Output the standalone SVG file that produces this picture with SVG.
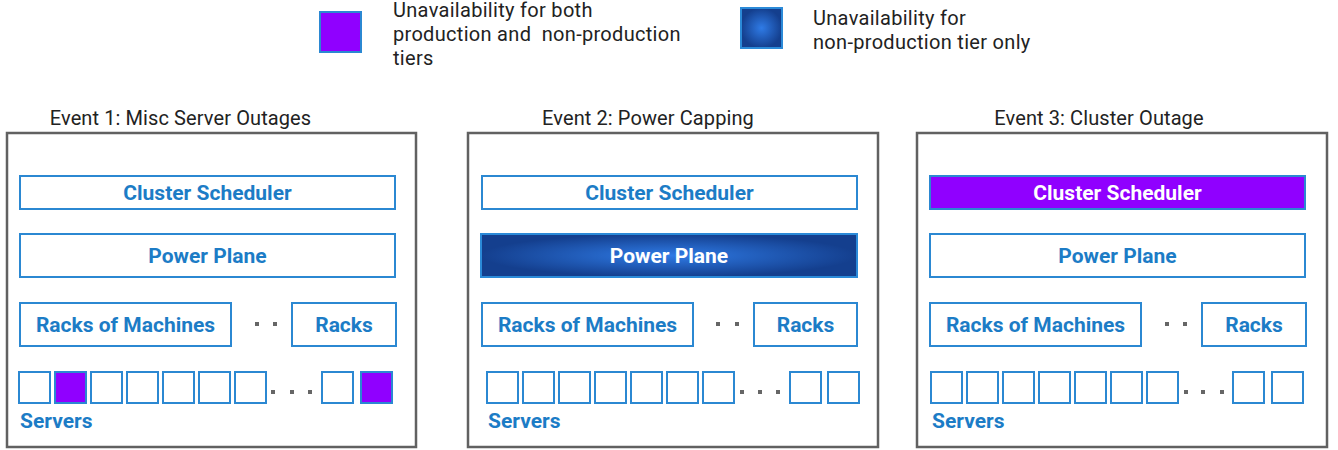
<svg xmlns="http://www.w3.org/2000/svg" width="1338" height="450" viewBox="0 0 1338 450">
<style>
.panel{fill:#fff;stroke:#616161;stroke-width:2.5}
.box{fill:#fff;stroke:#2b88d2;stroke-width:2}
.srv{fill:#fff;stroke:#2b88d2;stroke-width:2}
.bad{fill:#9000ff;stroke:#2b88d2;stroke-width:2}
.np{fill:url(#blueGrad);stroke:#2b8ad8;stroke-width:2}
.lbl{font-family:Roboto,"Liberation Sans",sans-serif;font-weight:700;font-size:21px;fill:#1c7cc6;text-anchor:middle}
.lblw{font-family:Roboto,"Liberation Sans",sans-serif;font-weight:700;font-size:21px;fill:#fff;text-anchor:middle}
.srvlbl{font-family:Roboto,"Liberation Sans",sans-serif;font-weight:700;font-size:21px;fill:#1c7cc6}
.title{font-family:Roboto,"Liberation Sans",sans-serif;font-size:20px;letter-spacing:0.1px;fill:#222;text-anchor:middle}
.leg{font-family:Roboto,"Liberation Sans",sans-serif;font-size:20px;letter-spacing:0.3px;fill:#222}
.dot{fill:#666}
</style>
<defs>
<radialGradient id="blueGrad" cx="0.5" cy="0.5" r="0.5">
<stop offset="0" stop-color="#2f7be6"/>
<stop offset="1" stop-color="#143f8e"/>
</radialGradient>
</defs>

<g id="legend">
<rect x="320" y="12" width="41" height="40" class="bad"/>
<text class="leg" x="393" y="17">Unavailability for both</text>
<text class="leg" x="393" y="41" xml:space="preserve">production and  non-production</text>
<text class="leg" x="393" y="65">tiers</text>
<rect x="741" y="8" width="41" height="40" class="np"/>
<text class="leg" x="813" y="25">Unavailability for</text>
<text class="leg" x="813" y="49">non-production tier only</text>
</g>

<g id="event1">
<text class="title" x="180.5" y="125">Event 1: Misc Server Outages</text>
<rect x="7" y="133" width="409" height="314" class="panel"/>
<g id="e1-scheduler"><rect x="20" y="176" width="375" height="33" class="box"/><text class="lbl" x="207.5" y="200">Cluster Scheduler</text></g>
<g id="e1-power"><rect x="20" y="234" width="375" height="43" class="box"/><text class="lbl" x="207.5" y="263">Power Plane</text></g>
<g id="e1-racks1"><rect x="20" y="303" width="211" height="43" class="box"/><text class="lbl" x="125.5" y="332">Racks of Machines</text></g>
<g id="e1-racks2"><rect x="292" y="303" width="104" height="43" class="box"/><text class="lbl" x="344" y="332">Racks</text></g>
<rect class="dot" x="255" y="322" width="4" height="4"/><rect class="dot" x="273" y="322" width="4" height="4"/>
<g id="e1-servers">
<rect class="srv" x="19" y="372" width="31" height="31"/>
<rect class="bad" x="55" y="372" width="31" height="31"/>
<rect class="srv" x="91" y="372" width="31" height="31"/>
<rect class="srv" x="127" y="372" width="31" height="31"/>
<rect class="srv" x="163" y="372" width="31" height="31"/>
<rect class="srv" x="199" y="372" width="31" height="31"/>
<rect class="srv" x="235" y="372" width="31" height="31"/>
<rect class="dot" x="271" y="390" width="4" height="4"/><rect class="dot" x="290" y="390" width="4" height="4"/><rect class="dot" x="308" y="390" width="4" height="4"/>
<rect class="srv" x="322" y="372" width="31" height="31"/>
<rect class="bad" x="361" y="372" width="31" height="31"/>
<text class="srvlbl" x="20" y="428">Servers</text>
</g>
</g>

<g id="event2">
<text class="title" x="648" y="125">Event 2: Power Capping</text>
<rect x="468" y="133" width="410" height="314" class="panel"/>
<g id="e2-scheduler"><rect x="482" y="176" width="375" height="33" class="box"/><text class="lbl" x="669.5" y="200">Cluster Scheduler</text></g>
<g id="e2-power"><rect x="481" y="234" width="376" height="43" class="np"/><text class="lblw" x="669" y="263">Power Plane</text></g>
<g id="e2-racks1"><rect x="482" y="303" width="211" height="43" class="box"/><text class="lbl" x="587.5" y="332">Racks of Machines</text></g>
<g id="e2-racks2"><rect x="754" y="303" width="103" height="43" class="box"/><text class="lbl" x="805.5" y="332">Racks</text></g>
<rect class="dot" x="716" y="322" width="4" height="4"/><rect class="dot" x="735" y="322" width="4" height="4"/>
<g id="e2-servers">
<rect class="srv" x="487" y="372" width="31" height="31"/>
<rect class="srv" x="523" y="372" width="31" height="31"/>
<rect class="srv" x="559" y="372" width="31" height="31"/>
<rect class="srv" x="595" y="372" width="31" height="31"/>
<rect class="srv" x="631" y="372" width="31" height="31"/>
<rect class="srv" x="667" y="372" width="31" height="31"/>
<rect class="srv" x="703" y="372" width="31" height="31"/>
<rect class="dot" x="740" y="390" width="4" height="4"/><rect class="dot" x="758" y="390" width="4" height="4"/><rect class="dot" x="776" y="390" width="4" height="4"/>
<rect class="srv" x="790" y="372" width="31" height="31"/>
<rect class="srv" x="828" y="372" width="31" height="31"/>
<text class="srvlbl" x="488" y="428">Servers</text>
</g>
</g>

<g id="event3">
<text class="title" x="1099" y="125">Event 3: Cluster Outage</text>
<rect x="917" y="133" width="410" height="314" class="panel"/>
<g id="e3-scheduler"><rect x="930" y="176" width="375" height="33" class="bad"/><text class="lblw" x="1117.5" y="200">Cluster Scheduler</text></g>
<g id="e3-power"><rect x="930" y="234" width="375" height="43" class="box"/><text class="lbl" x="1117.5" y="263">Power Plane</text></g>
<g id="e3-racks1"><rect x="930" y="303" width="211" height="43" class="box"/><text class="lbl" x="1035.5" y="332">Racks of Machines</text></g>
<g id="e3-racks2"><rect x="1202" y="303" width="104" height="43" class="box"/><text class="lbl" x="1254" y="332">Racks</text></g>
<rect class="dot" x="1165" y="322" width="4" height="4"/><rect class="dot" x="1183" y="322" width="4" height="4"/>
<g id="e3-servers">
<rect class="srv" x="931" y="372" width="31" height="31"/>
<rect class="srv" x="967" y="372" width="31" height="31"/>
<rect class="srv" x="1003" y="372" width="31" height="31"/>
<rect class="srv" x="1039" y="372" width="31" height="31"/>
<rect class="srv" x="1075" y="372" width="31" height="31"/>
<rect class="srv" x="1111" y="372" width="31" height="31"/>
<rect class="srv" x="1147" y="372" width="31" height="31"/>
<rect class="dot" x="1184" y="390" width="4" height="4"/><rect class="dot" x="1201" y="390" width="4" height="4"/><rect class="dot" x="1220" y="390" width="4" height="4"/>
<rect class="srv" x="1233" y="372" width="31" height="31"/>
<rect class="srv" x="1272" y="372" width="31" height="31"/>
<text class="srvlbl" x="932" y="428">Servers</text>
</g>
</g>

<g id="connectors"></g>
</svg>
